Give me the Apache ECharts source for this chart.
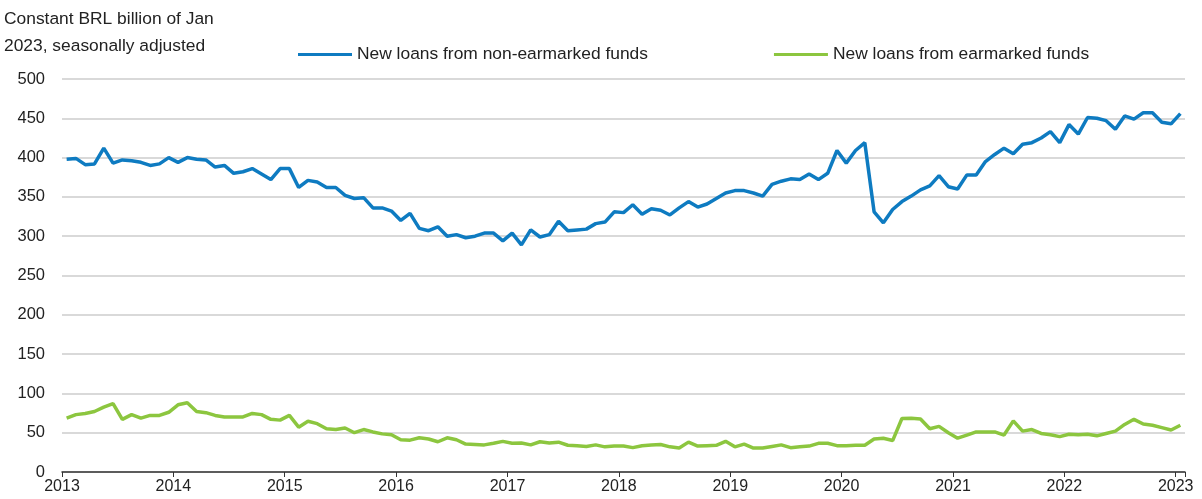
<!DOCTYPE html>
<html>
<head>
<meta charset="utf-8">
<script src="https://cdn.jsdelivr.net/npm/echarts@6/dist/echarts.min.js"></script>
<style>
  html, body { margin: 0; padding: 0; background: #fff; }
  #main { width: 1202px; height: 499px; }
</style>
</head>
<body>
<div id="main"></div>
<script>
// monthly data, Jan 2013 .. Jan 2023
var startYear = 2013;
var nonEarmarked = [
  398, 399, 391, 392, 412, 393, 397, 396, 394, 390, 392, 400,
  394, 400, 398, 397, 388, 390, 380, 382, 386, 379, 372, 386,
  386, 362, 371, 369, 362, 362, 352, 348, 349, 336, 336, 332,
  320, 329, 310, 307, 312, 300, 302, 298, 300, 304, 304, 294,
  304, 289, 308, 299, 302, 319, 307, 308, 309, 316, 318, 331,
  330, 340, 328, 335, 333, 327, 336, 344, 337, 341, 348, 355,
  358, 358, 355, 351, 366, 370, 373, 372, 379, 372, 380, 409,
  393, 409, 419, 331, 317, 334, 344, 351, 359, 364, 377, 363,
  360, 378, 378, 395, 404, 412, 405, 417, 419, 425, 433, 419,
  442, 430, 451, 450, 447, 436, 453, 449, 457, 457, 445, 443,
  456
];
var earmarked = [
  68.5, 73, 74.5, 77, 82.5, 87, 67, 73, 68.5, 72, 72, 76,
  85.5, 88, 77, 75.5, 72, 70, 70, 70, 74.5, 73, 67, 66,
  72, 57, 64.5, 61.5, 55, 54, 56, 50, 54, 51, 48.5, 47.5,
  41, 40.5, 43.5, 42, 38.5, 43.5, 41, 35.5, 35, 34.5, 36.5, 39,
  36.5, 37, 34.5, 38.5, 37, 38, 34, 33.5, 32.5, 34.5, 32, 33,
  33, 31, 33.5, 34.5, 35, 32, 30.5, 38, 33, 33.5, 34, 39,
  32, 35.5, 30.5, 30.5, 32.5, 34.5, 31, 32, 33, 36.5, 36.5, 33.5,
  33.5, 34, 34, 42, 43, 40, 68, 68.5, 67.5, 55, 58, 50,
  43, 47, 51, 51, 51, 47, 65, 52, 54, 49, 47.5, 45,
  48, 47.5, 48, 46, 49, 52, 60.5, 67, 61, 59.5, 56.5, 53.5,
  59.5
];
var yTicks = [0, 50, 100, 150, 200, 250, 300, 350, 400, 450, 500];
var seriesNames = ['New loans from non-earmarked funds', 'New loans from earmarked funds'];

function toPairs(vals) {
  return vals.map(function (v, i) {
    return [startYear + (i + 0.5) / 12, v];
  });
}

var FONT = '"Liberation Sans", Arial, sans-serif';
var chart = echarts.init(document.getElementById('main'), null, { renderer: 'canvas' });

chart.setOption({
  animation: false,
  backgroundColor: '#fff',
  textStyle: { fontFamily: FONT },
  title: {
    text: 'Constant BRL billion of Jan\n2023, seasonally adjusted',
    left: -1,
    top: 1,
    textStyle: { fontFamily: FONT, fontSize: 17.4, fontWeight: 'normal', color: '#222', lineHeight: 27 }
  },
  legend: {
    left: 293,
    top: 41,
    itemGap: 126,
    itemWidth: 54,
    itemHeight: 3,
    icon: 'rect',
    textStyle: { fontFamily: FONT, fontSize: 17.4, color: '#222' },
    data: seriesNames
  },
  grid: { left: 62, right: 17, top: 79, bottom: 27, containLabel: false },
  xAxis: {
    type: 'value',
    min: 2013,
    max: 2023.0833,
    interval: 1,
    axisLine: { show: true, lineStyle: { color: '#333', width: 1.5 } },
    axisTick: { show: true, length: 5, lineStyle: { color: '#333' } },
    splitLine: { show: false },
    axisLabel: {
      color: '#222', fontSize: 16, fontFamily: FONT, margin: 7,
      formatter: function (v) { return Math.abs(v - Math.round(v)) < 1e-6 ? String(Math.round(v)) : ''; }
    }
  },
  yAxis: {
    type: 'value',
    min: yTicks[0],
    max: yTicks[yTicks.length - 1],
    interval: 50,
    axisLine: { show: false },
    axisTick: { show: false },
    splitLine: { lineStyle: { color: '#d9d9d9', width: 2 } },
    axisLabel: { color: '#222', fontSize: 16.5, fontFamily: FONT, margin: 17 }
  },
  series: [
    {
      name: seriesNames[0],
      type: 'line',
      data: toPairs(nonEarmarked),
      showSymbol: false,
      symbol: 'none',
      lineStyle: { color: '#0e7bc1', width: 3.5 },
      itemStyle: { color: '#0e7bc1' }
    },
    {
      name: seriesNames[1],
      type: 'line',
      data: toPairs(earmarked),
      showSymbol: false,
      symbol: 'none',
      lineStyle: { color: '#8cc63f', width: 3.5 },
      itemStyle: { color: '#8cc63f' }
    }
  ]
});
</script>
</body>
</html>
